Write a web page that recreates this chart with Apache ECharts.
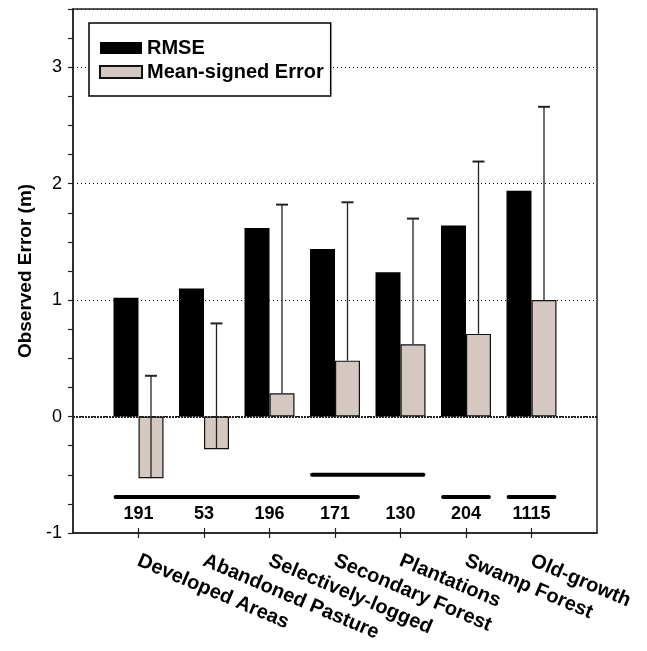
<!DOCTYPE html>
<html>
<head>
<meta charset="utf-8">
<script src="https://cdn.jsdelivr.net/npm/echarts@6/dist/echarts.min.js"></script>
<style>html,body{margin:0;padding:0;background:#fff}#c{width:647px;height:651px}</style>
</head>
<body>
<div id="c"></div>
<script>
// ---- data ----
const categories = ['Developed Areas','Abandoned Pasture','Selectively-logged','Secondary Forest','Plantations','Swamp Forest','Old-growth'];
const sampleSizes = ['191','53','196','171','130','204','1115'];
const rmse = [1.02, 1.10, 1.62, 1.44, 1.24, 1.64, 1.94];
const meanSigned = [-0.53, -0.28, 0.20, 0.48, 0.62, 0.71, 1.00];
const errorSD = [0.88, 1.08, 1.62, 1.36, 1.08, 1.48, 1.66];
// significance groups (category positions 1..7) and their drawing level
const groupFrom = [1, 4, 6, 7];
const groupTo = [4, 5, 6, 7];
const groupLevel = [-0.69, -0.50, -0.69, -0.69];
const yMin = -1, yMax = 3.5;

const FONT = '"Liberation Sans", Arial, Helvetica, sans-serif';
const axisData = [''].concat(categories, ['']);
const sizeData = [''].concat(sampleSizes, ['']);
const isCat = (i) => i >= 1 && i <= categories.length;
const BAR_W = 25;

const chart = echarts.init(document.getElementById('c'), null, {renderer: 'canvas'});
chart.setOption({
  animation: false,
  backgroundColor: '#fff',
  grid: {left: 73, right: 50, top: 9, bottom: 118, show: true, borderColor: '#222', borderWidth: 1.5, backgroundColor: 'transparent'},
  legend: {
    orient: 'vertical', left: 89, top: 23,
    icon: 'rect',
    itemWidth: 42, itemHeight: 12, itemGap: 4,
    padding: [15, 7, 14, 10],
    borderColor: '#000', borderWidth: 1.5, backgroundColor: '#fff',
    textStyle: {fontFamily: FONT, fontWeight: 'bold', fontSize: 20, color: '#000'},
    data: ['RMSE', 'Mean-signed Error']
  },
  xAxis: [
    {
      type: 'category', data: axisData, boundaryGap: false, position: 'bottom',
      axisLine: {show: true, onZero: false, lineStyle: {color: '#222', width: 1.5}},
      axisTick: {show: true, inside: false, length: 5, interval: (i) => isCat(i), lineStyle: {color: '#222', width: 1.2}},
      axisLabel: {interval: (i) => isCat(i), rotate: -23, margin: 27, fontFamily: FONT, fontWeight: 'bold', fontSize: 20, color: '#000'},
      splitLine: {show: false}
    },
    {
      type: 'category', data: sizeData, boundaryGap: false, position: 'bottom',
      axisLine: {show: false, onZero: false},
      axisTick: {show: true, inside: true, length: 5, interval: (i) => isCat(i), lineStyle: {color: '#222', width: 1.2}},
      axisLabel: {inside: true, interval: (i) => isCat(i), margin: 10, fontFamily: FONT, fontWeight: 'bold', fontSize: 18, color: '#000'},
      splitLine: {show: false}
    },
    {
      type: 'value', min: 0, max: categories.length + 1, show: false
    }
  ],
  yAxis: [
    {
      type: 'value', min: yMin, max: yMax, interval: 0.25,
      name: 'Observed Error (m)', nameLocation: 'middle', nameGap: 38,
      nameTextStyle: {fontFamily: FONT, fontWeight: 'bold', fontSize: 19, color: '#000'},
      axisLine: {show: true, lineStyle: {color: '#222', width: 1.5}},
      axisTick: {show: true, inside: false, length: 5, lineStyle: {color: '#222', width: 1.2}},
      axisLabel: {margin: 11, fontFamily: FONT, fontSize: 18, color: '#000',
        formatter: (v) => Math.abs(v - Math.round(v)) < 1e-9 ? String(Math.round(v)) : ''},
      splitLine: {show: false}
    },
    {
      type: 'value', min: yMin, max: yMax, interval: 1,
      axisLine: {show: false}, axisTick: {show: false}, axisLabel: {show: false},
      splitLine: {show: true, lineStyle: {color: '#000', width: 1, type: [1, 3]}}
    }
  ],
  series: [
    {
      name: 'RMSE', type: 'bar', xAxisIndex: 0, yAxisIndex: 0,
      barWidth: BAR_W, barGap: '0%',
      itemStyle: {color: '#000'},
      data: rmse.map((v, i) => [i + 1, v]),
      markLine: {
        silent: true, symbol: 'none', label: {show: false},
        lineStyle: {color: '#222', width: 2, type: [2, 1]},
        data: [{yAxis: 0}]
      }
    },
    {
      name: 'Mean-signed Error', type: 'bar', xAxisIndex: 0, yAxisIndex: 0,
      barWidth: BAR_W, barGap: '0%',
      itemStyle: {color: '#d4c8c0', borderColor: '#111', borderWidth: 1.2},
      data: meanSigned.map((v, i) => [i + 1, v])
    },
    {
      type: 'custom', xAxisIndex: 2, yAxisIndex: 0, silent: true, z: 5,
      data: meanSigned.map((v, i) => [i + 1, v, v + errorSD[i]]),
      renderItem: function (params, api) {
        const p0 = api.coord([api.value(0), api.value(1)]);
        const p1 = api.coord([api.value(0), api.value(2)]);
        const x = p0[0] + BAR_W / 2;
        return {
          type: 'group',
          children: [
            {type: 'line', shape: {x1: x, y1: p0[1], x2: x, y2: p1[1]}, style: {stroke: '#222', lineWidth: 1.3}},
            {type: 'line', shape: {x1: x - 6, y1: p1[1], x2: x + 6, y2: p1[1]}, style: {stroke: '#222', lineWidth: 2}}
          ]
        };
      }
    },
    {
      type: 'custom', xAxisIndex: 2, yAxisIndex: 0, silent: true, z: 5,
      data: groupFrom.map((f, i) => [f, groupTo[i], groupLevel[i]]),
      renderItem: function (params, api) {
        const a = api.coord([api.value(0) - 0.35, api.value(2)]);
        const b = api.coord([api.value(1) + 0.35, api.value(2)]);
        return {type: 'line', shape: {x1: a[0], y1: a[1], x2: b[0], y2: b[1]}, style: {stroke: '#000', lineWidth: 4, lineCap: 'round'}};
      }
    }
  ]
});
</script>
</body>
</html>
